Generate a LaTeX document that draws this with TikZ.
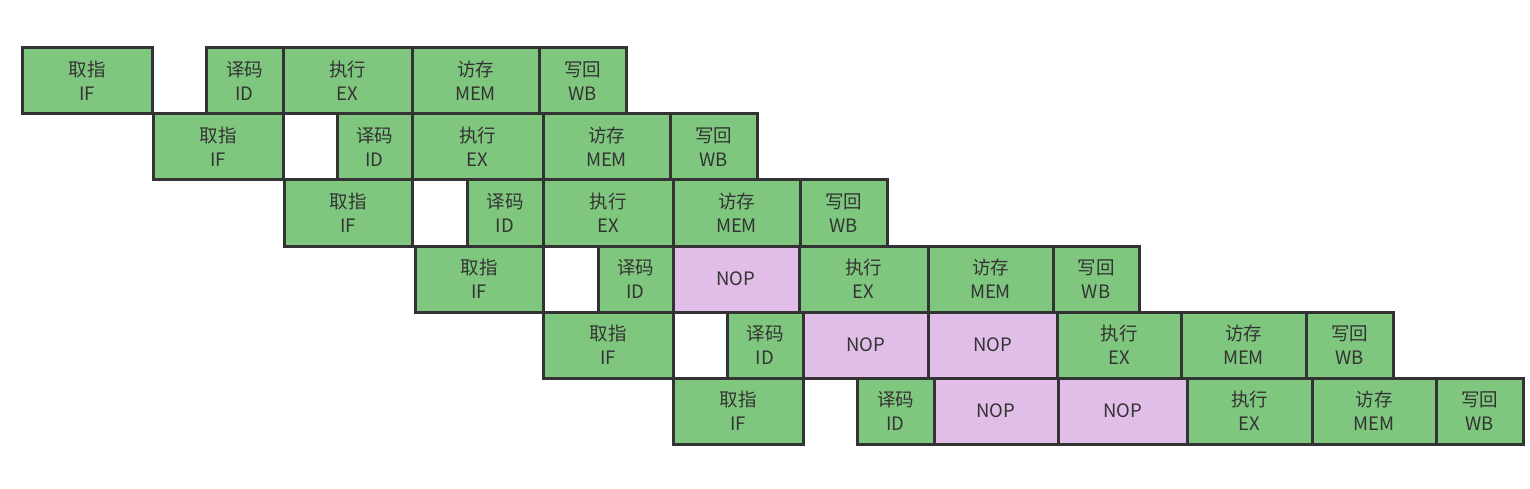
\documentclass[tikz,border=0pt]{standalone}
\usepackage{fontspec}
\newfontfamily\cjk{Noto Sans CJK SC}
\usetikzlibrary{positioning}

\definecolor{stagegreen}{HTML}{7FC77F}
\definecolor{nopviolet}{HTML}{E1BEE7}
\definecolor{edgegray}{HTML}{333333}

\tikzset{
    stage/.style={draw=edgegray, line width=3pt, fill=stagegreen, minimum height=66pt,
        inner sep=0pt, outer sep=0pt, align=center, text=edgegray,
        font=\cjk\fontsize{18.5pt}{24pt}\selectfont},
    nop/.style={stage, fill=nopviolet}
}

\begin{document}
\begin{tikzpicture}[x=1pt, y=-1pt]

    \useasboundingbox (0,0) rectangle (1530,489);

    % Instruction 1
    \node[stage, minimum width=130pt] (a1if) at (87,81) {取指\\IF};
    \node[stage, minimum width=77pt] (a1id) at (244.5,81) {译码\\ID};
    \node[stage, minimum width=129pt] (a1ex) at (347.5,81) {执行\\EX};
    \node[stage, minimum width=127pt] (a1mem) at (475.5,81) {访存\\MEM};
    \node[stage, minimum width=87pt] (a1wb) at (582.5,81) {写回\\WB};

    % Instruction 2
    \node[stage, minimum width=130pt] (a2if) at (218,147) {取指\\IF};
    \node[stage, minimum width=75pt] (a2id) at (374.5,147) {译码\\ID};
    \node[stage, minimum width=131pt] (a2ex) at (477.5,147) {执行\\EX};
    \node[stage, minimum width=127pt] (a2mem) at (606.5,147) {访存\\MEM};
    \node[stage, minimum width=87pt] (a2wb) at (713.5,147) {写回\\WB};

    % Instruction 3
    \node[stage, minimum width=128pt] (a3if) at (348,213) {取指\\IF};
    \node[stage, minimum width=76pt] (a3id) at (505,213) {译码\\ID};
    \node[stage, minimum width=130pt] (a3ex) at (608,213) {执行\\EX};
    \node[stage, minimum width=127pt] (a3mem) at (736.5,213) {访存\\MEM};
    \node[stage, minimum width=87pt] (a3wb) at (843.5,213) {写回\\WB};

    % Instruction 4
    \node[stage, minimum width=128pt] (a4if) at (479,279) {取指\\IF};
    \node[stage, minimum width=75pt] (a4id) at (635.5,279) {译码\\ID};
    \node[nop, minimum width=126pt] (a4nop) at (736,279) {NOP};
    \node[stage, minimum width=129pt] (a4ex) at (863.5,279) {执行\\EX};
    \node[stage, minimum width=125pt] (a4mem) at (990.5,279) {访存\\MEM};
    \node[stage, minimum width=86pt] (a4wb) at (1096,279) {写回\\WB};

    % Instruction 5
    \node[stage, minimum width=130pt] (a5if) at (608,345) {取指\\IF};
    \node[stage, minimum width=76pt] (a5id) at (765,345) {译码\\ID};
    \node[nop, minimum width=125pt] (a5nopa) at (865.5,345) {NOP};
    \node[nop, minimum width=129pt] (a5nopb) at (992.5,345) {NOP};
    \node[stage, minimum width=124pt] (a5ex) at (1119,345) {执行\\EX};
    \node[stage, minimum width=125pt] (a5mem) at (1243.5,345) {访存\\MEM};
    \node[stage, minimum width=87pt] (a5wb) at (1349.5,345) {写回\\WB};

    % Instruction 6
    \node[stage, minimum width=130pt] (a6if) at (738,411) {取指\\IF};
    \node[stage, minimum width=77pt] (a6id) at (895.5,411) {译码\\ID};
    \node[nop, minimum width=124pt] (a6nopa) at (996,411) {NOP};
    \node[nop, minimum width=129pt] (a6nopb) at (1122.5,411) {NOP};
    \node[stage, minimum width=125pt] (a6ex) at (1249.5,411) {执行\\EX};
    \node[stage, minimum width=124pt] (a6mem) at (1374,411) {访存\\MEM};
    \node[stage, minimum width=87pt] (a6wb) at (1479.5,411) {写回\\WB};

\end{tikzpicture}
\end{document}
